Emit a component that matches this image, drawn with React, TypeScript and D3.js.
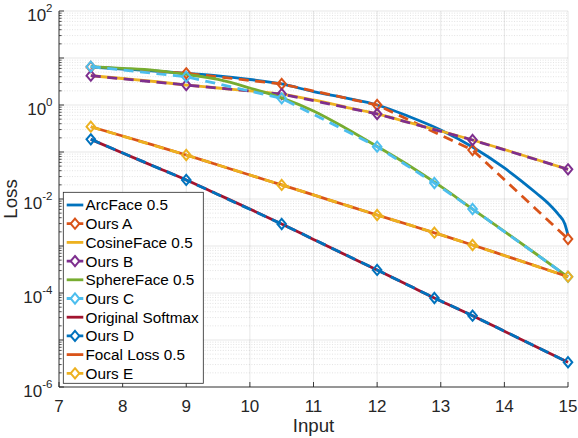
import React from 'react';
import * as d3 from 'd3';

const W = 578;
const H = 438;

// x positions of the smooth baseline curves
const xGrid = [7.5, 8, 8.5, 9, 9.5, 10, 10.5, 11, 11.5, 12, 12.5, 13, 13.5, 14, 14.5, 15];
const arcX = [7.5, 8, 8.5, 9, 9.5, 10, 10.5, 11, 11.5, 12, 12.5, 13, 13.5, 14, 14.5, 14.7, 14.85, 14.95, 15];

const arcFace = [6.44, 5.83, 5.29, 4.73, 4.18, 3.49, 2.8, 1.92, 1.41, 1.0, 0.57, 0.294, 0.128, 0.0457, 0.0134, 0.00783, 0.00468, 0.00294, 0.00171];
const cosineFace = [4.2, 3.66, 3.16, 2.66, 2.3, 1.99, 1.71, 1.28, 0.906, 0.644, 0.425, 0.28, 0.18, 0.113, 0.0692, 0.0428];
const sphereFace = [6.53, 6.04, 5.47, 4.46, 3.49, 2.3, 1.42, 0.745, 0.324, 0.131, 0.0516, 0.0185, 0.00612, 0.00204, 0.000676, 0.000219];
const softmax = [0.186, 0.0952, 0.0492, 0.0254, 0.0125, 0.00613, 0.00294, 0.00138, 0.00065, 0.000309, 0.000144, 6.76e-5, 3.29e-5, 1.54e-5, 7.16e-6, 3.36e-6];
const focal = [0.345, 0.219, 0.138, 0.0863, 0.0529, 0.0324, 0.0199, 0.0122, 0.00745, 0.00457, 0.00283, 0.00173, 0.00105, 0.000628, 0.000375, 0.000222];

// "Ours" sample points (markers)
const oursXShort = [7.5, 9, 10.5, 12, 13.5, 15];
const oursXFull = [7.5, 9, 10.5, 12, 12.9, 13.5, 15];
const oursA = [6.44, 4.73, 2.8, 1.0, 0.11, 0.00141];
const oursB = [4.2, 2.66, 1.71, 0.644, 0.18, 0.0428];
const oursC = [6.53, 4.0, 1.39, 0.13, 0.0219, 0.00612, 0.000221];
const oursD = [0.186, 0.0254, 0.00294, 0.000309, 7.83e-5, 3.29e-5, 3.36e-6];
const oursE = [0.345, 0.0863, 0.0199, 0.00457, 0.00192, 0.00105, 0.000222];

const xTicks = [7, 8, 9, 10, 11, 12, 13, 14, 15];
const yTickExps = [-6, -4, -2, 0, 2];

const C = {
  blue: '#0072BD',
  orange: '#D95319',
  yellow: '#EDB120',
  purple: '#7E2F8E',
  green: '#77AC30',
  cyan: '#4DBEEE',
  red: '#A2142F',
};

type Series = { name: string; xs: number[]; ys: number[]; color: string; ours: boolean };

const series: Series[] = [
  { name: 'ArcFace 0.5', xs: arcX, ys: arcFace, color: C.blue, ours: false },
  { name: 'Ours A', xs: oursXShort, ys: oursA, color: C.orange, ours: true },
  { name: 'CosineFace 0.5', xs: xGrid, ys: cosineFace, color: C.yellow, ours: false },
  { name: 'Ours B', xs: oursXShort, ys: oursB, color: C.purple, ours: true },
  { name: 'SphereFace 0.5', xs: xGrid, ys: sphereFace, color: C.green, ours: false },
  { name: 'Ours C', xs: oursXFull, ys: oursC, color: C.cyan, ours: true },
  { name: 'Original Softmax', xs: xGrid, ys: softmax, color: C.red, ours: false },
  { name: 'Ours D', xs: oursXFull, ys: oursD, color: C.blue, ours: true },
  { name: 'Focal Loss 0.5', xs: xGrid, ys: focal, color: C.orange, ours: false },
  { name: 'Ours E', xs: oursXFull, ys: oursE, color: C.yellow, ours: true },
];

const left = 59, right = 568, top = 11, bottom = 387;
const x = d3.scaleLinear().domain([7, 15]).range([left, right]);
const y = d3.scaleLog().domain([1e-6, 1e2]).range([bottom, top]);

const axisColor = '#262626';
const FONT = '"Liberation Sans", Arial, Helvetica, sans-serif';
const LW = 2.8;
const DASH = '10 6.5';

function diamond(cx: number, cy: number, rx = 4.3, ry = 5.1) {
  return `M${cx},${cy - ry}L${cx + rx},${cy}L${cx},${cy + ry}L${cx - rx},${cy}Z`;
}

export default function App() {
  const smooth = d3
    .line<[number, number]>()
    .x((d) => x(d[0]))
    .y((d) => y(d[1]))
    .curve(d3.curveMonotoneX);
  const straight = d3
    .line<[number, number]>()
    .x((d) => x(d[0]))
    .y((d) => y(d[1]));

  const minorVals: number[] = [];
  for (let e = -6; e < 2; e++) for (let k = 2; k <= 9; k++) minorVals.push(k * Math.pow(10, e));
  const majorVals = d3.range(-6, 3).map((e) => Math.pow(10, e));

  const legX = 63.3, legY = 192.3, legW = 140, legH = 191;
  const rowY0 = 205, rowDy = 18.7;

  return (
    <svg width={W} height={H} style={{ position: 'absolute', left: 0, top: 0, background: '#fff' }} fontFamily={FONT}>
      <rect x={0} y={0} width={W} height={H} fill="#fff" />
      {/* grid */}
      <g>
        {minorVals.map((v, i) => (
          <line key={'mg' + i} x1={left} x2={right} y1={y(v)} y2={y(v)} stroke={axisColor} strokeOpacity={0.22} strokeWidth={0.6} strokeDasharray="1 1.6" />
        ))}
        {majorVals.map((v, i) => (
          <line key={'Mg' + i} x1={left} x2={right} y1={y(v)} y2={y(v)} stroke={axisColor} strokeOpacity={0.14} strokeWidth={0.8} />
        ))}
        {xTicks.map((t) => (
          <line key={'xg' + t} x1={x(t)} x2={x(t)} y1={top} y2={bottom} stroke={axisColor} strokeOpacity={0.14} strokeWidth={0.8} />
        ))}
      </g>
      {/* series */}
      <g>
        {series.map((s) => {
          const pts = s.xs.map((xv, i) => [xv, s.ys[i]] as [number, number]);
          return (
            <g key={s.name}>
              <path
                d={(s.ours ? straight(pts) : smooth(pts)) || ''}
                fill="none"
                stroke={s.color}
                strokeWidth={LW}
                strokeDasharray={s.ours ? DASH : undefined}
              />
              {s.ours &&
                pts.map((p, i) => (
                  <path key={i} d={diamond(x(p[0]), y(p[1]))} fill="none" stroke={s.color} strokeWidth={2} />
                ))}
            </g>
          );
        })}
      </g>
      {/* axes */}
      <g>
        <line x1={left} x2={left} y1={top} y2={bottom} stroke={axisColor} strokeWidth={0.9} />
        <line x1={left} x2={right} y1={bottom} y2={bottom} stroke={axisColor} strokeWidth={0.9} />
        {xTicks.map((t) => (
          <g key={'xt' + t}>
            <line x1={x(t)} x2={x(t)} y1={bottom} y2={bottom - 5} stroke={axisColor} strokeWidth={0.9} />
            <text x={x(t)} y={411.5} textAnchor="middle" fontSize={17} fill={axisColor}>
              {t}
            </text>
          </g>
        ))}
        {minorVals.map((v, i) => (
          <line key={'mt' + i} x1={left} x2={left + 2.6} y1={y(v)} y2={y(v)} stroke={axisColor} strokeWidth={0.8} />
        ))}
        {majorVals.map((v, i) => (
          <line key={'Mt' + i} x1={left} x2={left + 5} y1={y(v)} y2={y(v)} stroke={axisColor} strokeWidth={0.9} />
        ))}
        {yTickExps.map((e) => (
          <text key={'yt' + e} x={52.5} y={y(Math.pow(10, e)) + 9.7} textAnchor="end" fontSize={17} fill={axisColor}>
            <tspan>10</tspan>
            <tspan fontSize={11.5} dy={-8.4}>
              {e}
            </tspan>
          </text>
        ))}
        <text x={(left + right) / 2} y={431.5} textAnchor="middle" fontSize={18.7} fill={axisColor}>
          Input
        </text>
        <text transform={`translate(17,${(top + bottom) / 2}) rotate(-90)`} textAnchor="middle" fontSize={18.7} fill={axisColor}>
          Loss
        </text>
      </g>
      {/* legend */}
      <g>
        <rect x={legX} y={legY} width={legW} height={legH} fill="#fff" stroke={axisColor} strokeWidth={0.8} />
        {series.map((s, i) => {
          const cy = rowY0 + i * rowDy;
          return (
            <g key={'lg' + s.name}>
              <line
                x1={66.7}
                x2={83.3}
                y1={cy}
                y2={cy}
                stroke={s.color}
                strokeWidth={LW}
                strokeDasharray={s.ours ? '4.5 7.6 4.5' : undefined}
              />
              {s.ours && <path d={diamond(75, cy)} fill="none" stroke={s.color} strokeWidth={2} />}
              <text x={85.5} y={cy + 5.4} fontSize={15.3} fill="#000">
                {s.name}
              </text>
            </g>
          );
        })}
      </g>
    </svg>
  );
}
